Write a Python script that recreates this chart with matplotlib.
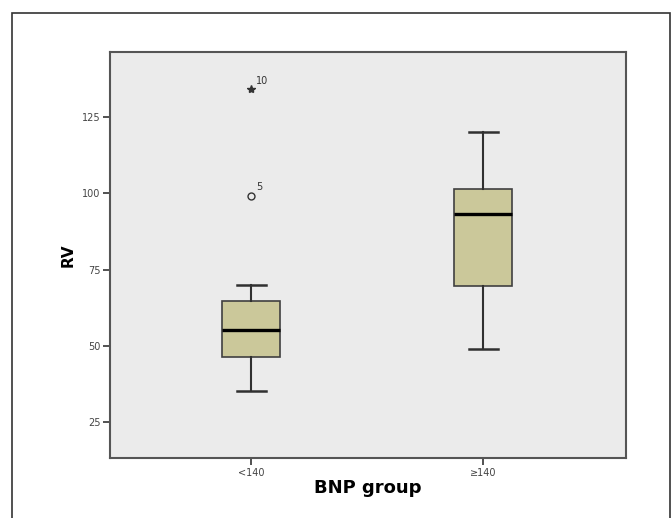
import matplotlib
matplotlib.use("Agg")
import matplotlib.pyplot as plt
from matplotlib.patches import Rectangle

# Data
groups = ["<140", "\u2265140"]
whisker_low = [35.2, 49.1]
q1 = [46.2, 69.7]
median = [55.2, 93.1]
q3 = [64.8, 101.6]
whisker_high = [70.0, 120.2]

# outliers of the <140 group: (value, case label, marker)
outlier_values = [99.3, 134.2]
outlier_labels = ["5", "10"]
outlier_markers = ["o", "*"]

y_ticks = [25, 50, 75, 100, 125]

fig = plt.figure(figsize=(6.72, 5.18), dpi=100)
fig.patch.set_facecolor("white")
# outer frame around the figure
fig.patches.append(Rectangle((12 / 672, -0.05), 658 / 672, 1 - 13 / 518 + 0.05,
                             transform=fig.transFigure, fill=False,
                             edgecolor="#333333", linewidth=1.2))

ax = fig.add_axes([110 / 672, 60 / 518, 516 / 672, 406 / 518])
ax.set_facecolor("#ebebeb")

stats = []
for i in range(len(groups)):
    stats.append({
        "whislo": whisker_low[i], "q1": q1[i], "med": median[i],
        "q3": q3[i], "whishi": whisker_high[i], "fliers": [],
    })

ax.bxp(stats, positions=[1, 2], widths=0.253, patch_artist=True,
       showfliers=False, capwidths=0.125,
       boxprops=dict(facecolor="#cbc89a", edgecolor="#404040", linewidth=1.2),
       medianprops=dict(color="black", linewidth=2.4),
       whiskerprops=dict(color="#303030", linewidth=1.5),
       capprops=dict(color="#303030", linewidth=1.8))

for val, lab, mk in zip(outlier_values, outlier_labels, outlier_markers):
    if mk == "o":
        ax.plot(1, val, marker="o", markersize=5, markerfacecolor="none",
                markeredgecolor="#333333", markeredgewidth=1.0, linestyle="none")
    else:
        ax.plot(1, val, marker="*", markersize=6, color="#333333", linestyle="none")
    ax.text(1.02, val + 1.2, lab, fontsize=7, color="#333333", ha="left", va="bottom")

ax.set_xlim(0.392, 2.616)
ax.set_ylim(13.2, 146.4)
ax.set_xticks([1, 2])
ax.set_xticklabels(groups, fontsize=7, color="#444444")
ax.set_yticks(y_ticks)
ax.set_yticklabels([str(t) for t in y_ticks], fontsize=7, color="#444444")
ax.tick_params(axis="both", direction="out", length=5, width=1.2, color="#333333", pad=2)

for s in ax.spines.values():
    s.set_color("#555555")
    s.set_linewidth(1.5)

ax.set_ylabel("RV", fontsize=11, fontweight="bold", labelpad=4)
ax.set_xlabel("BNP group", fontsize=13, fontweight="bold", labelpad=1)

fig.savefig("out.png", dpi=100)
